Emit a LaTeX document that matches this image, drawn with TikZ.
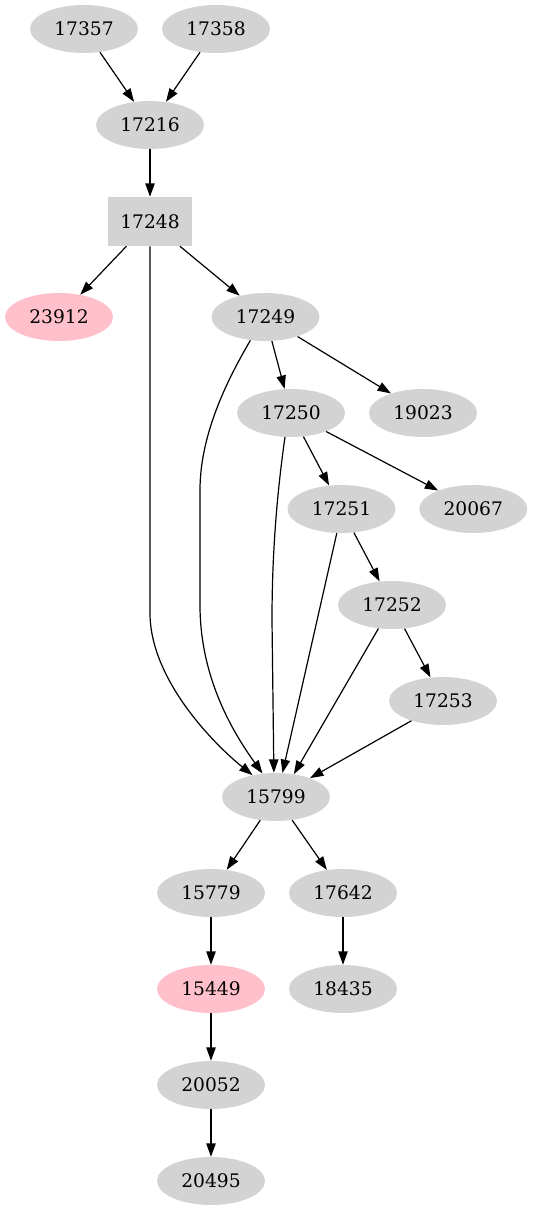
\documentclass[tikz,border=0pt]{standalone}
\usepackage{fontspec}
\setmainfont{DejaVu Serif}
\usetikzlibrary{arrows.meta,shapes.geometric}
\definecolor{gvgray}{HTML}{D3D3D3}
\definecolor{gvpink}{HTML}{FFC0CB}
\tikzset{
  gnode/.style={ellipse, fill=gvgray, draw=none, minimum width=81pt, minimum height=36pt, inner sep=0pt, font=\fontsize{14}{16}\selectfont},
  pnode/.style={gnode, fill=gvpink},
  bnode/.style={rectangle, fill=gvgray, draw=none, minimum width=63pt, minimum height=36.75pt, inner sep=0pt, font=\fontsize{14}{16}\selectfont},
  e/.style={draw=black, line width=0.9pt, -{Triangle[length=10pt,width=7pt]}}
}
\begin{document}
\begin{tikzpicture}[x=0.75pt,y=-0.75pt]
\path[use as bounding box] (0,0) rectangle (533,1211);
\node[gnode] (n17357) at (84,29) {17357};
\node[gnode] (n17358) at (216,29) {17358};
\node[gnode] (n17216) at (150,125) {17216};
\node[bnode] (n17248) at (150,221.5) {17248};
\node[pnode] (n23912) at (59,317) {23912};
\node[gnode] (n17249) at (265.5,317) {17249};
\node[gnode] (n17250) at (291,413) {17250};
\node[gnode] (n19023) at (423,413) {19023};
\node[gnode] (n17251) at (341.5,509) {17251};
\node[gnode] (n20067) at (473.3,509) {20067};
\node[gnode] (n17252) at (392,605) {17252};
\node[gnode] (n17253) at (443,701) {17253};
\node[gnode] (n15799) at (276,797) {15799};
\node[gnode] (n15779) at (211,893) {15779};
\node[gnode] (n17642) at (343,893) {17642};
\node[pnode] (n15449) at (211,989) {15449};
\node[gnode] (n18435) at (343,989) {18435};
\node[gnode] (n20052) at (211,1085) {20052};
\node[gnode] (n20495) at (211,1181) {20495};

\draw[e] (n17357) -- (n17216);
\draw[e] (n17358) -- (n17216);
\draw[e] (n17216) -- (n17248);
\draw[e] (n17248) -- (n23912);
\draw[e] (n17248) -- (n17249);
\draw[e] (n17248.south) -- (150,613) .. controls (150,680) and (215,745) .. (n15799.137);
\draw[e] (n17249) -- (n17250);
\draw[e] (n17249) -- (n19023);
\draw[e] (n17249.237) .. controls (232,372) and (200,430) .. (200,490) -- (200,605) .. controls (200,680) and (235,735) .. (n15799.120);
\draw[e] (n17250) -- (n17251);
\draw[e] (n17250) -- (n20067);
\draw[e] (n17250.256) .. controls (276,500) and (272,560) .. (272,620) -- (n15799.95);
\draw[e] (n17251) -- (n17252);
\draw[e] (n17251.259) -- (n15799.75);
\draw[e] (n17252) -- (n17253);
\draw[e] (n17252.240) -- (n15799.52);
\draw[e] (n17253.212) -- (n15799.29);
\draw[e] (n15799) -- (n15779);
\draw[e] (n15799) -- (n17642);
\draw[e] (n15779) -- (n15449);
\draw[e] (n17642) -- (n18435);
\draw[e] (n15449) -- (n20052);
\draw[e] (n20052) -- (n20495);
\end{tikzpicture}
\end{document}
